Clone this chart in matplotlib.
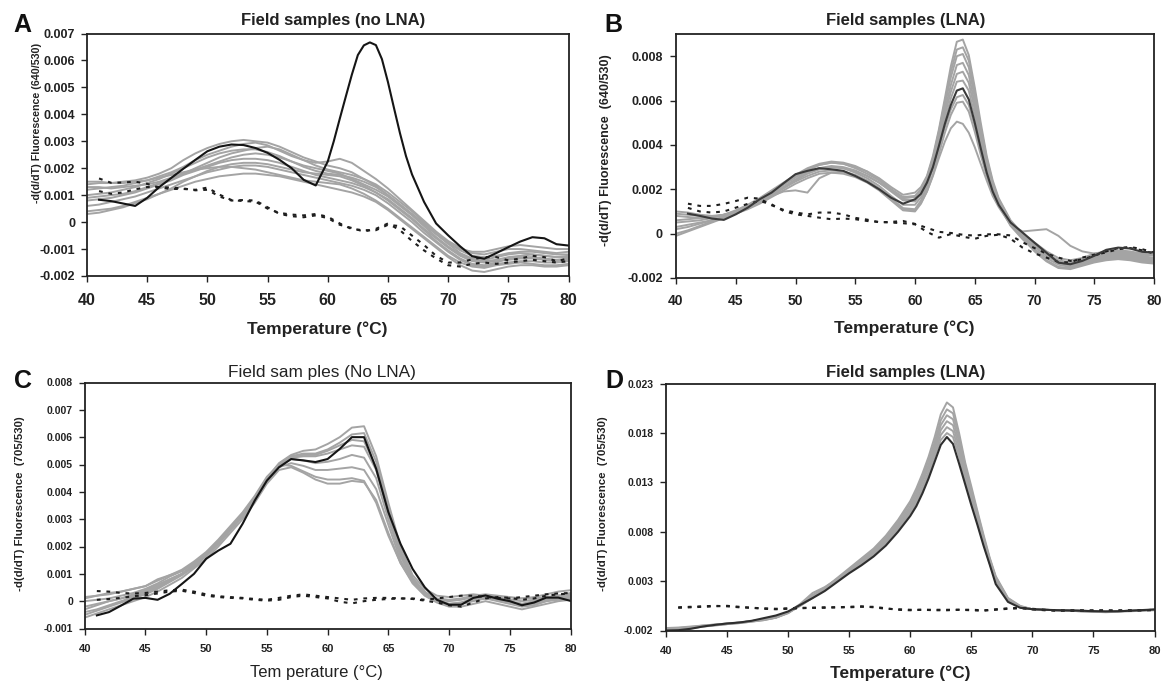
import numpy as np
import matplotlib
matplotlib.use("Agg")
import matplotlib.pyplot as plt

plt.rcParams['font.family'] = ['Liberation Sans', 'DejaVu Sans']
plt.rcParams['axes.unicode_minus'] = False

# temperature grids (°C); all values below are in units of 0.001
temps = list(range(40, 81))
temps_fine = (list(range(40, 61))
              + [60.5, 61, 61.5, 62, 62.5, 63, 63.5, 64, 64.5, 65, 65.5, 66, 66.5, 67]
              + list(range(68, 81)))

# ---------------- panel A : 640/530, no LNA ----------------
a_black = [None, 0.83, 0.78, 0.69, 0.60, 0.9, 1.3, 1.64, 1.98, 2.31,
           2.63, 2.8, 2.88, 2.86, 2.75, 2.57, 2.31, 2.0, 1.57, 1.36, 2.25,
           3.0, 3.84, 4.66, 5.47, 6.2, 6.56, 6.67, 6.57, 6.05, 5.2, 4.24, 3.3, 2.45, 1.77,
           0.75, -0.05, -0.49, -0.9, -1.27, -1.36, -1.15, -0.93, -0.72, -0.56, -0.6,
           -0.82, -0.87]   # on temps_fine
a_dash1 = [None, 1.62, 1.46, 1.47, 1.5, 1.42, 1.28, 1.23, 1.23, 1.2,
           1.28, 1.02, 0.82, 0.78, 0.76, 0.5, 0.34, 0.28, 0.25, 0.3,
           0.2, -0.05, -0.26, -0.3, -0.3, -0.1, -0.15, -0.5, -0.85, -1.25,
           -1.5, -1.5, -1.38, -1.3, -1.3, -1.42, -1.35, -1.25, -1.3, -1.45,
           -1.35]
a_dash2 = [None, 1.15, 1.05, 1.1, 1.22, 1.3, 1.3, 1.28, 1.25, 1.18,
           1.2, 0.95, 0.8, 0.82, 0.8, 0.55, 0.3, 0.22, 0.18, 0.25,
           0.15, -0.1, -0.22, -0.35, -0.25, -0.05, -0.3, -0.7, -1.05, -1.35,
           -1.6, -1.65, -1.55, -1.5, -1.55, -1.5, -1.45, -1.4, -1.45, -1.5,
           -1.45]
a_g1 = [1.4, 1.45, 1.45, 1.5, 1.55, 1.65, 1.8, 2.0, 2.3, 2.55,
        2.75, 2.9, 3.0, 3.05, 3.0, 2.95, 2.8, 2.6, 2.4, 2.25,
        2.1, 2.0, 1.85, 1.6, 1.35, 1.0, 0.65, 0.3, -0.1, -0.45,
        -0.8, -1.0, -1.1, -1.1, -1.0, -0.9, -0.85, -0.9, -0.95, -1.0, -1.0]
a_g2 = [1.2, 1.25, 1.3, 1.35, 1.45, 1.55, 1.7, 1.85, 2.05, 2.3,
        2.5, 2.65, 2.8, 2.9, 2.95, 2.85, 2.65, 2.45, 2.3, 2.2,
        2.25, 2.35, 2.2, 1.9, 1.6, 1.25, 0.85, 0.45, 0.05, -0.35,
        -0.7, -0.95, -1.15, -1.2, -1.1, -1.0, -1.0, -1.05, -1.1, -1.15, -1.1]
a_g3 = [1.0, 1.05, 1.1, 1.2, 1.3, 1.45, 1.6, 1.8, 2.0, 2.2,
        2.4, 2.55, 2.65, 2.7, 2.7, 2.6, 2.45, 2.25, 2.05, 1.9,
        1.8, 1.75, 1.65, 1.5, 1.3, 1.0, 0.65, 0.3, -0.05, -0.4,
        -0.8, -1.15, -1.35, -1.4, -1.3, -1.2, -1.15, -1.2, -1.25, -1.3, -1.25]
a_g4 = [0.8, 0.85, 0.9, 1.0, 1.1, 1.25, 1.4, 1.55, 1.75, 1.9,
        2.05, 2.2, 2.3, 2.35, 2.35, 2.3, 2.2, 2.05, 1.9, 1.75,
        1.65, 1.55, 1.45, 1.3, 1.1, 0.85, 0.5, 0.15, -0.25, -0.6,
        -0.95, -1.25, -1.45, -1.5, -1.45, -1.4, -1.35, -1.35, -1.4, -1.45, -1.4]
a_g5 = [0.6, 0.65, 0.75, 0.85, 0.95, 1.1, 1.25, 1.4, 1.55, 1.7,
        1.85, 1.95, 2.05, 2.1, 2.1, 2.05, 1.95, 1.85, 1.75, 1.65,
        1.55, 1.45, 1.35, 1.2, 1.0, 0.7, 0.35, 0.0, -0.4, -0.75,
        -1.1, -1.4, -1.6, -1.65, -1.55, -1.5, -1.45, -1.45, -1.5, -1.5, -1.45]
a_g6 = [0.4, 0.45, 0.5, 0.6, 0.75, 0.9, 1.05, 1.2, 1.35, 1.5,
        1.6, 1.7, 1.75, 1.8, 1.8, 1.75, 1.7, 1.6, 1.5, 1.4,
        1.3, 1.2, 1.1, 0.95, 0.75, 0.45, 0.1, -0.25, -0.6, -0.95,
        -1.3, -1.6, -1.8, -1.85, -1.75, -1.65, -1.6, -1.6, -1.65, -1.65, -1.6]
a_g7 = [0.3, 0.35, 0.45, 0.55, 0.7, 0.85, 1.05, 1.25, 1.5, 1.7,
        1.9, 2.05, 2.15, 2.2, 2.2, 2.15, 2.05, 1.95, 1.85, 1.8,
        1.75, 1.7, 1.55, 1.35, 1.1, 0.8, 0.45, 0.1, -0.3, -0.7,
        -1.05, -1.35, -1.55, -1.6, -1.5, -1.35, -1.3, -1.3, -1.35, -1.4, -1.35]
a_g8 = [1.5, 1.5, 1.45, 1.45, 1.5, 1.55, 1.65, 1.75, 1.85, 1.95,
        2.0, 2.05, 2.05, 2.0, 1.95, 1.85, 1.75, 1.65, 1.55, 1.5,
        1.45, 1.4, 1.25, 1.05, 0.8, 0.5, 0.15, -0.2, -0.55, -0.9,
        -1.25, -1.5, -1.65, -1.7, -1.6, -1.55, -1.5, -1.55, -1.6, -1.6, -1.55]
a_g9 = [0.9, 0.95, 1.0, 1.05, 1.15, 1.3, 1.45, 1.6, 1.8, 2.0,
        2.2, 2.4, 2.55, 2.65, 2.75, 2.8, 2.7, 2.5, 2.3, 2.1,
        1.95, 1.85, 1.75, 1.6, 1.4, 1.1, 0.75, 0.4, 0.0, -0.4,
        -0.75, -1.05, -1.25, -1.3, -1.25, -1.15, -1.1, -1.1, -1.15, -1.2, -1.2]
a_g10 = [1.3, 1.3, 1.25, 1.3, 1.35, 1.4, 1.5, 1.65, 1.8, 1.95,
         2.1, 2.25, 2.4, 2.5, 2.55, 2.5, 2.4, 2.25, 2.1, 2.0,
         1.9, 1.8, 1.6, 1.4, 1.2, 0.95, 0.6, 0.25, -0.15, -0.55,
         -0.9, -1.2, -1.4, -1.45, -1.4, -1.3, -1.25, -1.2, -1.25, -1.3, -1.3]
a_yticks = [-0.002, -0.001, 0, 0.001, 0.002, 0.003, 0.004, 0.005, 0.006, 0.007]
a_ylabels = ['-0.002', '-0.001', '0', '0.001', '0.002', '0.003', '0.004',
             '0.005', '0.006', '0.007']

# ---------------- panel B : 640/530, LNA (curves on temps_fine) ----------------
b_black = [None, 0.9, 0.8, 0.68, 0.62, 0.87, 1.17, 1.55, 1.85, 2.27,
           2.68, 2.83, 2.95, 2.9, 2.83, 2.6, 2.33, 2.0, 1.62, 1.35, 1.55,
           1.8, 2.3, 3.0, 3.95, 4.95, 5.8, 6.45, 6.55, 6.05, 5.0, 3.85, 2.75, 1.9, 1.3,
           0.5, 0.05, -0.41, -0.86, -1.31, -1.38, -1.23, -1.0, -0.73, -0.63, -0.67,
           -0.82, -0.85]
b_dash1 = [None, 1.35, 1.25, 1.25, 1.34, 1.47, 1.62, 1.58, 1.28, 1.07,
           0.95, 0.87, 0.95, 0.95, 0.87, 0.71, 0.63, 0.51, 0.53, 0.57,
           0.44, 0.26, 0.08, 0.03, -0.05, -0.09, -0.03, -0.03, -0.08, -0.39,
           -0.65, -0.9, -1.08, -1.23, -1.16, -1.0, -0.8, -0.65, -0.6, -0.7,
           -0.85]
b_dash2 = [None, 1.16, 1.0, 0.95, 1.0, 1.17, 1.34, 1.47, 1.32, 1.02,
           0.87, 0.8, 0.72, 0.65, 0.68, 0.65, 0.57, 0.53, 0.5, 0.47,
           0.42, 0.08, -0.18, -0.02, -0.14, -0.23, -0.1, -0.05, -0.23, -0.63,
           -0.89, -1.08, -1.28, -1.3, -1.08, -0.95, -0.85, -0.7, -0.65, -0.75,
           -0.9]
b_g1 = [0.2, 0.3, 0.45, 0.6, 0.75, 0.95, 1.2, 1.5, 1.85, 2.2,
        2.55, 2.85, 3.1, 3.2, 3.15, 3.0, 2.8, 2.5, 2.1, 1.75, 1.85,
        2.1, 2.6, 3.5, 4.7, 6.1, 7.55, 8.65, 8.75, 8.05, 6.6, 5.0, 3.5, 2.4, 1.6,
        0.6, 0.0, -0.4, -0.8, -1.1, -1.2, -1.1, -0.9, -0.8, -0.75, -0.8, -0.9, -0.95]
b_g2 = [0.5, 0.55, 0.6, 0.7, 0.85, 1.05, 1.3, 1.6, 1.95, 2.3,
        2.65, 2.95, 3.15, 3.25, 3.2, 3.05, 2.8, 2.45, 2.0, 1.6, 1.65,
        1.95, 2.5, 3.35, 4.5, 5.8, 7.05, 8.0, 8.1, 7.5, 6.15, 4.65, 3.3, 2.25, 1.5,
        0.5, -0.1, -0.5, -0.9, -1.2, -1.3, -1.2, -1.0, -0.9, -0.85, -0.9, -1.0, -1.1]
b_g3 = [0.8, 0.75, 0.7, 0.75, 0.85, 1.0, 1.25, 1.5, 1.8, 2.1,
        2.45, 2.75, 2.95, 3.05, 3.0, 2.85, 2.6, 2.3, 1.9, 1.5, 1.45,
        1.8, 2.4, 3.25, 4.35, 5.55, 6.7, 7.6, 7.7, 7.15, 5.85, 4.45, 3.15, 2.15, 1.45,
        0.45, -0.15, -0.6, -1.0, -1.3, -1.4, -1.3, -1.1, -1.0, -0.95, -1.0, -1.1, -1.2]
b_g4 = [-0.1, 0.1, 0.3, 0.5, 0.7, 0.9, 1.15, 1.45, 1.75, 2.05,
        2.4, 2.7, 2.9, 3.0, 2.95, 2.75, 2.5, 2.15, 1.7, 1.3, 1.3,
        1.65, 2.25, 3.1, 4.2, 5.35, 6.4, 7.2, 7.3, 6.8, 5.6, 4.25, 3.0, 2.05, 1.4,
        0.4, -0.2, -0.7, -1.1, -1.4, -1.5, -1.35, -1.2, -1.1, -1.05, -1.1, -1.2, -1.25]
b_g5 = [1.0, 0.95, 0.85, 0.8, 0.85, 0.95, 1.15, 1.4, 1.7, 2.05,
        2.35, 2.6, 2.8, 2.85, 2.8, 2.65, 2.4, 2.05, 1.6, 1.15, 1.1,
        1.5, 2.1, 2.95, 4.0, 5.1, 6.1, 6.85, 6.9, 6.45, 5.3, 4.05, 2.9, 1.95, 1.3,
        0.35, -0.25, -0.75, -1.2, -1.5, -1.55, -1.4, -1.25, -1.15, -1.1, -1.15, -1.25, -1.3]
b_g6 = [0.3, 0.4, 0.5, 0.6, 0.75, 0.9, 1.1, 1.35, 1.65, 1.95,
        2.25, 2.5, 2.7, 2.75, 2.7, 2.55, 2.3, 1.95, 1.5, 1.05, 1.0,
        1.35, 1.9, 2.65, 3.6, 4.55, 5.35, 5.9, 5.95, 5.5, 4.6, 3.55, 2.6, 1.8, 1.3,
        0.4, -0.2, -0.8, -1.25, -1.55, -1.6, -1.45, -1.3, -1.2, -1.15, -1.2, -1.3, -1.35]
b_g7 = [0.6, 0.65, 0.7, 0.75, 0.85, 1.0, 1.2, 1.45, 1.7, 1.9,
        1.95, 1.85, 2.5, 2.75, 2.75, 2.6, 2.35, 2.0, 1.55, 1.1, 1.05,
        1.4, 1.9, 2.6, 3.4, 4.15, 4.75, 5.05, 4.95, 4.55, 3.9, 3.15, 2.4, 1.7, 1.2,
        0.4, 0.1, 0.15, 0.2, -0.1, -0.55, -0.8, -0.9, -0.85, -0.8, -0.85, -0.95, -1.0]
b_g8 = [0.9, 0.85, 0.8, 0.75, 0.8, 0.95, 1.2, 1.5, 1.85, 2.2,
        2.55, 2.8, 2.95, 3.0, 2.95, 2.8, 2.6, 2.3, 1.95, 1.55, 1.5,
        1.8, 2.3, 2.95, 3.85, 4.8, 5.6, 6.15, 6.25, 5.8, 4.85, 3.75, 2.7, 1.85, 1.3,
        0.45, -0.05, -0.5, -0.95, -1.25, -1.35, -1.2, -1.05, -0.95, -0.9, -0.95, -1.05, -1.15]
b_g9 = [0.0, 0.15, 0.35, 0.55, 0.75, 1.0, 1.25, 1.55, 1.9, 2.25,
        2.6, 2.9, 3.1, 3.2, 3.15, 2.95, 2.7, 2.4, 2.0, 1.65, 1.7,
        2.0, 2.55, 3.4, 4.6, 5.95, 7.3, 8.3, 8.4, 7.8, 6.4, 4.8, 3.4, 2.3, 1.55,
        0.55, -0.05, -0.55, -1.0, -1.3, -1.45, -1.35, -1.15, -1.05, -1.0, -1.05, -1.15, -1.2]
b_yticks = [-0.002, 0, 0.002, 0.004, 0.006, 0.008]
b_ylabels = ['-0.002', '0', '0.002', '0.004', '0.006', '0.008']

# ---------------- panel C : 705/530, no LNA ----------------
c_black = [None, -0.52, -0.4, -0.16, 0.09, 0.12, 0.05, 0.27, 0.63, 1.0,
           1.55, 1.85, 2.1, 2.83, 3.68, 4.41, 4.9, 5.2, 5.15, 5.09,
           5.2, 5.57, 6.0, 6.0, 4.84, 3.26, 2.1, 1.18, 0.51, 0.05,
           -0.13, -0.13, 0.12, 0.21, 0.09, 0.0, -0.15, -0.05, 0.13, 0.13,
           0.01]
c_dash1 = [None, 0.37, 0.35, 0.3, 0.28, 0.3, 0.35, 0.4, 0.42, 0.35,
           0.25, 0.18, 0.15, 0.12, 0.08, 0.05, 0.12, 0.2, 0.25, 0.2,
           0.15, 0.1, 0.05, 0.1, 0.12, 0.12, 0.1, 0.1, 0.05, 0.1,
           0.15, 0.2, 0.2, 0.15, 0.12, 0.1, 0.15, 0.2, 0.25, 0.28,
           0.3]
c_dash2 = [None, 0.05, 0.08, 0.12, 0.18, 0.22, 0.28, 0.35, 0.38, 0.3,
           0.2, 0.15, 0.12, 0.1, 0.05, 0.02, 0.05, 0.15, 0.2, 0.15,
           0.1, -0.02, -0.08, 0.0, 0.05, 0.08, 0.1, 0.08, 0.02, -0.05,
           -0.15, -0.2, -0.05, 0.1, 0.15, 0.12, 0.05, 0.1, 0.2, 0.25,
           0.28]
c_g1 = [0.1, 0.2, 0.3, 0.35, 0.45, 0.55, 0.75, 0.95, 1.1, 1.4,
        1.75, 2.2, 2.7, 3.2, 3.8, 4.5, 5.05, 5.35, 5.5, 5.55,
        5.75, 6.0, 6.35, 6.4, 5.3, 3.6, 2.0, 0.95, 0.45, 0.2,
        0.15, 0.2, 0.25, 0.2, 0.1, 0.05, 0.1, 0.15, 0.25, 0.35, 0.4]
c_g2 = [-0.3, -0.15, 0.0, 0.1, 0.25, 0.4, 0.6, 0.8, 1.0, 1.3,
        1.7, 2.15, 2.65, 3.15, 3.75, 4.45, 5.0, 5.3, 5.4, 5.4,
        5.55, 5.8, 6.1, 6.15, 5.1, 3.4, 1.85, 0.85, 0.35, 0.05,
        -0.1, -0.05, 0.1, 0.15, 0.05, -0.05, -0.1, 0.0, 0.1, 0.15, 0.2]
c_g3 = [-0.5, -0.35, -0.2, -0.05, 0.1, 0.25, 0.45, 0.7, 0.95, 1.25,
        1.65, 2.1, 2.6, 3.1, 3.7, 4.4, 4.95, 5.25, 5.3, 5.3,
        5.4, 5.55, 5.7, 5.65, 4.8, 3.2, 1.75, 0.8, 0.3, 0.0,
        -0.15, -0.1, 0.0, 0.1, 0.0, -0.1, -0.2, -0.15, 0.0, 0.1, 0.15]
c_g4 = [0.0, 0.05, 0.1, 0.2, 0.3, 0.45, 0.65, 0.9, 1.1, 1.4,
        1.75, 2.2, 2.7, 3.2, 3.8, 4.5, 5.0, 5.2, 5.15, 5.05,
        5.1, 5.2, 5.35, 5.25, 4.5, 3.0, 1.65, 0.75, 0.3, 0.05,
        0.0, 0.05, 0.15, 0.2, 0.15, 0.05, 0.0, 0.05, 0.1, 0.2, 0.25]
c_g5 = [-0.2, -0.1, 0.0, 0.1, 0.2, 0.35, 0.55, 0.8, 1.0, 1.35,
        1.7, 2.1, 2.6, 3.1, 3.7, 4.4, 4.9, 5.05, 4.95, 4.8,
        4.8, 4.85, 4.9, 4.8, 4.1, 2.8, 1.5, 0.7, 0.25, 0.0,
        -0.1, -0.05, 0.05, 0.1, 0.1, 0.0, -0.1, -0.1, 0.0, 0.05, 0.1]
c_g6 = [-0.6, -0.45, -0.3, -0.15, 0.0, 0.15, 0.35, 0.6, 0.85, 1.2,
        1.55, 2.0, 2.5, 3.0, 3.6, 4.3, 4.8, 4.9, 4.7, 4.45,
        4.3, 4.3, 4.4, 4.35, 3.7, 2.5, 1.4, 0.65, 0.2, -0.05,
        -0.2, -0.2, -0.1, 0.0, -0.1, -0.2, -0.3, -0.2, -0.1, 0.0, 0.05]
c_g7 = [0.15, 0.2, 0.25, 0.35, 0.45, 0.55, 0.8, 0.95, 1.15, 1.45,
        1.8, 2.25, 2.75, 3.25, 3.85, 4.55, 5.0, 4.95, 4.75, 4.55,
        4.45, 4.45, 4.5, 4.4, 3.6, 2.4, 1.4, 0.7, 0.3, 0.1,
        0.05, 0.1, 0.2, 0.25, 0.2, 0.15, 0.1, 0.1, 0.15, 0.2, 0.3]
c_g8 = [-0.4, -0.3, -0.15, 0.0, 0.15, 0.3, 0.5, 0.75, 1.0, 1.3,
        1.7, 2.15, 2.65, 3.15, 3.75, 4.45, 5.0, 5.3, 5.35, 5.35,
        5.5, 5.7, 5.9, 5.85, 4.9, 3.3, 1.8, 0.8, 0.3, 0.0,
        -0.15, -0.1, 0.05, 0.1, 0.05, -0.05, -0.1, -0.05, 0.05, 0.1, 0.15]
c_yticks = [-0.001, 0, 0.001, 0.002, 0.003, 0.004, 0.005, 0.006, 0.007, 0.008]
c_ylabels = ['-0.001', '0', '0.001', '0.002', '0.003', '0.004', '0.005',
             '0.006', '0.007', '0.008']

# ---------------- panel D : 705/530, LNA (curves on temps_fine) ----------------
d_black = [-2.0, -1.97, -1.83, -1.6, -1.43, -1.29, -1.19, -1.02, -0.75, -0.48,
           -0.07, 0.6, 1.28, 2.0, 2.9, 3.8, 4.6, 5.5, 6.6, 8.0, 9.6,
           10.6, 11.9, 13.4, 15.1, 16.8, 17.6, 16.9, 14.9, 12.8, 10.7, 8.7, 6.6, 4.7, 2.7,
           0.9, 0.3, 0.16, 0.1, 0.06, 0.03, 0.0, -0.04, -0.07, -0.05, 0.0, 0.07, 0.13]
d_dash1 = [None, 0.35, 0.4, 0.45, 0.5, 0.45, 0.35, 0.3, 0.25, 0.2,
           0.25, 0.3, 0.3, 0.3, 0.35, 0.4, 0.45, 0.35, 0.2, 0.15,
           0.1, 0.1, 0.1, 0.1, 0.1, 0.05, 0.0, 0.15, 0.25, 0.3,
           0.15, 0.05, 0.0, 0.05, 0.05, 0.0, 0.0, 0.05, 0.05, 0.05,
           0.05]
d_dash2 = [None, 0.3, 0.35, 0.4, 0.45, 0.5, 0.4, 0.3, 0.2, 0.15,
           0.2, 0.25, 0.3, 0.35, 0.35, 0.35, 0.4, 0.4, 0.25, 0.1,
           0.05, 0.1, 0.05, 0.05, 0.1, 0.1, 0.05, 0.1, 0.2, 0.25,
           0.2, 0.1, 0.05, 0.0, 0.0, 0.05, 0.05, 0.0, 0.0, 0.05,
           0.1]
d_g1 = [-1.85, -1.8, -1.7, -1.55, -1.45, -1.35, -1.25, -1.1, -0.95, -0.7,
        -0.2, 0.5, 1.3, 2.3, 3.3, 4.3, 5.3, 6.3, 7.6, 9.2, 11.1,
        12.4, 13.9, 15.6, 17.6, 19.9, 21.1, 20.6, 18.0, 15.0, 12.6, 10.1, 7.7, 5.4, 3.5,
        1.3, 0.5, 0.15, 0.1, 0.05, 0.05, 0.0, -0.05, -0.1, -0.05, 0.0, 0.05, 0.1]
d_g2 = [-1.95, -1.85, -1.75, -1.6, -1.45, -1.35, -1.2, -1.05, -0.9, -0.65,
        -0.15, 0.7, 1.8, 2.4, 3.2, 4.1, 5.05, 6.05, 7.3, 8.8, 10.6,
        11.8, 13.3, 14.8, 16.7, 18.8, 19.8, 19.4, 17.1, 14.3, 11.9, 9.6, 7.3, 5.2, 3.3,
        1.2, 0.4, 0.15, 0.1, 0.05, 0.0, -0.05, -0.1, -0.15, -0.1, -0.05, 0.0, 0.05]
d_g3 = [-1.8, -1.75, -1.65, -1.5, -1.4, -1.3, -1.2, -1.05, -0.9, -0.7,
        -0.25, 0.55, 1.5, 2.2, 3.1, 4.0, 4.95, 5.9, 7.15, 8.6, 10.35,
        11.5, 13.0, 14.5, 16.3, 18.3, 19.2, 18.8, 16.6, 13.9, 11.6, 9.3, 7.1, 5.0, 3.2,
        1.15, 0.4, 0.15, 0.1, 0.05, 0.05, 0.0, -0.05, -0.1, -0.05, 0.0, 0.05, 0.1]
d_g4 = [-1.9, -1.8, -1.7, -1.55, -1.45, -1.3, -1.2, -1.05, -0.85, -0.6,
        -0.15, 0.6, 1.4, 2.15, 3.05, 3.95, 4.85, 5.8, 7.0, 8.45, 10.1,
        11.2, 12.6, 14.1, 15.9, 17.8, 18.6, 18.2, 16.1, 13.5, 11.3, 9.1, 6.9, 4.9, 3.1,
        1.1, 0.4, 0.15, 0.1, 0.05, 0.0, -0.05, -0.1, -0.1, -0.05, 0.0, 0.05, 0.1]
d_g5 = [-2.0, -1.9, -1.8, -1.6, -1.5, -1.35, -1.25, -1.1, -0.95, -0.7,
        -0.2, 0.55, 1.35, 2.1, 3.0, 3.9, 4.75, 5.7, 6.85, 8.25, 9.9,
        10.9, 12.3, 13.8, 15.6, 17.3, 18.0, 17.6, 15.6, 13.1, 11.0, 8.9, 6.8, 4.8, 3.05,
        1.05, 0.35, 0.15, 0.1, 0.05, 0.0, -0.05, -0.1, -0.1, -0.05, 0.0, 0.05, 0.1]
d_g6 = [-1.75, -1.7, -1.6, -1.5, -1.4, -1.3, -1.2, -1.05, -0.9, -0.65,
        -0.2, 0.6, 1.6, 2.3, 3.2, 4.2, 5.2, 6.2, 7.45, 9.0, 10.9,
        12.1, 13.6, 15.2, 17.1, 19.3, 20.4, 20.0, 17.6, 14.7, 12.3, 9.9, 7.5, 5.3, 3.4,
        1.25, 0.45, 0.15, 0.1, 0.05, 0.05, 0.0, -0.05, -0.1, -0.05, 0.0, 0.05, 0.1]
d_yticks = [-0.002, 0.003, 0.008, 0.013, 0.018, 0.023]
d_ylabels = ['-0.002', '0.003', '0.008', '0.013', '0.018', '0.023']

xticks = [40, 45, 50, 55, 60, 65, 70, 75, 80]
xticklabels = ['40', '45', '50', '55', '60', '65', '70', '75', '80']

W, H = 1168, 684
fig = plt.figure(figsize=(W / 100, H / 100), dpi=100)


def fx(x):
    return x / W


def fy(y):
    return 1 - y / H


def panel(box, greys, dashes, black, ylim, yticks, ylabels, black_col,
          xt_size, yt_size, xpad, ypad, gx, bx, grey_col='#a4a4a4'):
    l, t, r, b = box
    ax = fig.add_axes([fx(l), fy(b), (r - l) / W, (b - t) / H])
    for g in greys:
        ax.plot(np.array(gx, dtype=float), np.array(g, dtype=float) * 1e-3,
                color=grey_col, lw=1.4, solid_capstyle='round',
                solid_joinstyle='round')
    for d in dashes:
        ax.plot(np.array(temps, dtype=float), np.array(d, dtype=float) * 1e-3,
                color='#1e1e1e', lw=1.5, ls=(0, (1.8, 2.8)))
    ax.plot(np.array(bx, dtype=float), np.array(black, dtype=float) * 1e-3,
            color=black_col, lw=1.5, solid_joinstyle='round')
    ax.set_xlim(40, 80)
    ax.set_ylim(*ylim)
    ax.set_xticks(xticks)
    ax.set_xticklabels(xticklabels, fontsize=xt_size, fontweight='bold')
    ax.set_yticks(yticks)
    ax.set_yticklabels(ylabels, fontsize=yt_size, fontweight='bold')
    ax.tick_params(axis='x', direction='out', length=4, width=1, pad=xpad,
                   colors='#222222')
    ax.tick_params(axis='y', direction='out', length=4, width=1, pad=ypad,
                   colors='#222222')
    for s in ax.spines.values():
        s.set_linewidth(1.3)
        s.set_color('#222222')
    return ax


panel((87, 33.5, 568.5, 276),
      [a_g1, a_g2, a_g3, a_g4, a_g5, a_g6, a_g7, a_g8, a_g9, a_g10],
      [a_dash1, a_dash2], a_black, (-0.002, 0.007), a_yticks, a_ylabels,
      '#151515', 11.5, 9, 8, 4.5, temps, temps_fine)
panel((676, 34, 1154, 278),
      [b_g1, b_g2, b_g3, b_g4, b_g5, b_g6, b_g7, b_g8, b_g9],
      [b_dash1, b_dash2], b_black, (-0.002, 0.009), b_yticks, b_ylabels,
      '#3a3a3a', 10, 9, 7.5, 5.5, temps_fine, temps_fine)
panel((84.7, 382.5, 570.5, 628.5),
      [c_g1, c_g2, c_g3, c_g4, c_g5, c_g6, c_g7, c_g8],
      [c_dash1, c_dash2], c_black, (-0.001, 0.008), c_yticks, c_ylabels,
      '#151515', 8, 7.5, 7.5, 4.5, temps, temps)
panel((666, 383.7, 1154.5, 630.5),
      [d_g1, d_g2, d_g3, d_g4, d_g5, d_g6],
      [d_dash1, d_dash2], d_black, (-0.002, 0.023), d_yticks, d_ylabels,
      '#2e2e2e', 8, 7.5, 7, 5, temps_fine, temps_fine)

# panel letters
for letter, x, y in [('A', 22.5, 24.5), ('B', 613, 25), ('C', 23, 381.5), ('D', 614, 381.5)]:
    fig.text(fx(x), fy(y), letter, fontsize=18, fontweight='bold',
             ha='center', va='center', color='#111111')

# titles
fig.text(fx(333), fy(20.5), 'Field samples (no LNA)', fontsize=12,
         fontweight='bold', ha='center', va='center', color='#222222')
fig.text(fx(905.5), fy(20), 'Field samples (LNA)', fontsize=12,
         fontweight='bold', ha='center', va='center', color='#222222')
fig.text(fx(321.6), fy(372), 'Field sam ples (No LNA)', fontsize=12.4,
         ha='center', va='center', color='#222222')
fig.text(fx(905.5), fy(372), 'Field samples (LNA)', fontsize=12,
         fontweight='bold', ha='center', va='center', color='#222222')

# x labels
fig.text(fx(317.5), fy(329), 'Temperature (°C)', fontsize=12.5,
         fontweight='bold', ha='center', va='center', color='#222222')
fig.text(fx(904), fy(328), 'Temperature (°C)', fontsize=12.5,
         fontweight='bold', ha='center', va='center', color='#222222')
fig.text(fx(316), fy(672), 'Tem perature (°C)', fontsize=12,
         ha='center', va='center', color='#222222')
fig.text(fx(900), fy(673), 'Temperature (°C)', fontsize=12.5,
         fontweight='bold', ha='center', va='center', color='#222222')

# y labels
fig.text(fx(37), fy(123), '-d(d/dT) Fluorescence (640/530)', fontsize=7.7,
         fontweight='bold', rotation=90, ha='center', va='center', color='#222222')
fig.text(fx(605.5), fy(150), '-d(d/dT) Fluorescence  (640/530)', fontsize=9,
         fontweight='bold', rotation=90, ha='center', va='center', color='#222222')
fig.text(fx(20.5), fy(504), '-d(d/dT) Fluorescence  (705/530)', fontsize=8.2,
         fontweight='bold', rotation=90, ha='center', va='center', color='#222222')
fig.text(fx(602.5), fy(504), '-d(d/dT) Fluorescence  (705/530)', fontsize=8.2,
         fontweight='bold', rotation=90, ha='center', va='center', color='#222222')

fig.savefig('out.png', dpi=100)
